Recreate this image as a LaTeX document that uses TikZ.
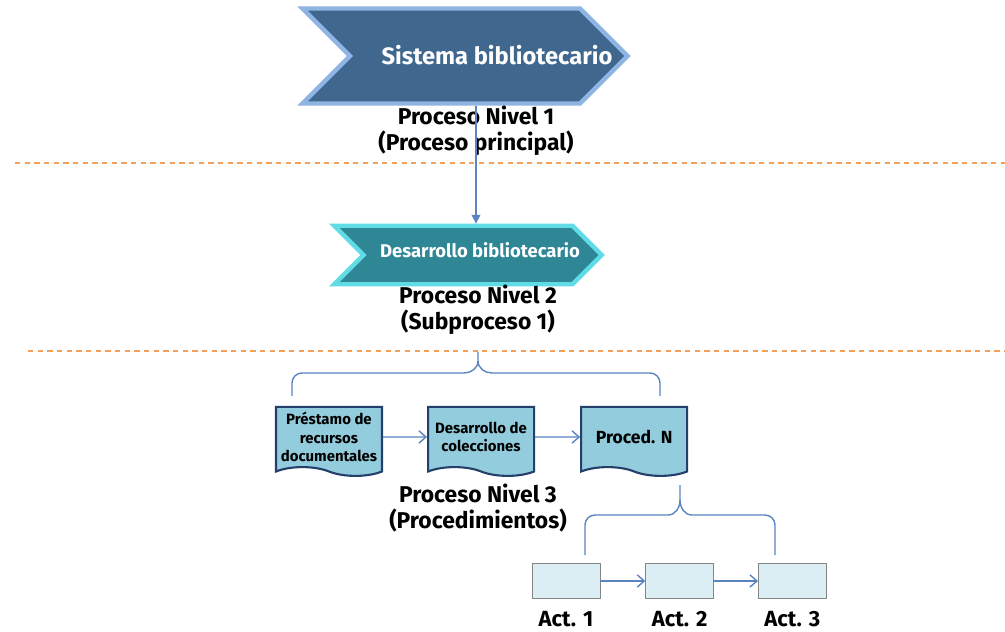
\documentclass[tikz,border=0pt]{standalone}
\usepackage{fontspec}
\setmainfont{Fira Sans}
\usetikzlibrary{arrows.meta,positioning,shapes.symbols,calc}
\definecolor{navyBody}{HTML}{40688F}
\definecolor{navyEdge}{HTML}{8DB4E2}
\definecolor{tealBody}{HTML}{2F8796}
\definecolor{tealEdge}{HTML}{5FDCE6}
\definecolor{docFill}{HTML}{93CDDD}
\definecolor{docLine}{HTML}{24406A}
\definecolor{actFill}{HTML}{DBEEF4}
\definecolor{actLine}{HTML}{858585}
\definecolor{linkColor}{HTML}{5B84BF}
\definecolor{cutColor}{HTML}{F5A05A}
\tikzset{chevron/.style={signal, signal from=west, signal to=east, signal pointer angle=90, inner sep=0pt, line width=2.5pt}}
\tikzset{chevron text/.style={text=white, font=\bfseries}}
\tikzset{level label/.style={align=center, font=\bfseries\fontsize{13}{14.5}\selectfont}}
\tikzset{doc/.style={tape, tape bend top=none, tape bend bottom=out and in, draw=docLine, line width=1.2pt, fill=docFill, minimum width=2.12cm, minimum height=1.38cm, inner sep=1pt, align=center, font=\bfseries\fontsize{8.5}{10.5}\selectfont}}
\tikzset{act/.style={rectangle, draw=actLine, fill=actFill, minimum width=1.36cm, minimum height=0.7cm}}
\tikzset{act label/.style={font=\bfseries\fontsize{12.5}{15}\selectfont}}
\tikzset{link/.style={draw=linkColor, line width=0.8pt}}
\tikzset{cut line/.style={cutColor, line width=1pt, dash pattern=on 3pt off 2.5pt}}

\begin{document}
\begin{tikzpicture}[x=0.02cm, y=-0.02cm, >={Straight Barb[length=4pt,width=7pt]}]
	\useasboundingbox (0,0) rectangle (1005,632);
	% dotted separators
	\draw[cut line] (15,163) -- (1005,163);
	\draw[cut line] (28,351) -- (1005,351);
	% level 1
	\node[chevron, fill=navyBody, draw=navyEdge, minimum width=6.5cm, minimum height=1.9cm] at (465,56) (sys) {};
	\node[chevron text, font=\bfseries\fontsize{13.5}{15}\selectfont] at (497,55) (sysText) {Sistema bibliotecario};
	\node[level label] at (476,131) (lvlOne) {Proceso Nivel 1\\(Proceso principal)};
	% level 2
	\node[chevron, fill=tealBody, draw=tealEdge, minimum width=5.35cm, minimum height=1.17cm] at (468,255) (dev) {};
	\node[chevron text, font=\bfseries\fontsize{10.5}{12}\selectfont] at (480,250) (devText) {Desarrollo bibliotecario};
	\node[level label] at (478,310) (lvlTwo) {Proceso Nivel 2\\(Subproceso 1)};
	\draw[link, -{Triangle[length=5pt,width=5pt]}] (sys.south -| lvlOne.center) -- (dev.north -| lvlOne.center);
	% level 3
	\draw[link] (292,396) -- (292,383) to[out=90,in=180] (302,373) -- (464,373) to[out=0,in=-90] (478,361) -- (478,352);
	\draw[link] (478,361) to[out=-90,in=180] (492,373) -- (650,373) to[out=0,in=90] (660,383) -- (660,396);
	\node[doc] at (329,437) (prestamo) {Préstamo de\\recursos\\documentales};
	\node[doc, right=0.88cm of prestamo] (colecciones) {Desarrollo de\\colecciones};
	\node[doc, right=0.9cm of colecciones, font=\bfseries\fontsize{10}{12}\selectfont] (procN) {Proced. N};
	\path (prestamo) edge[link, ->] (colecciones);
	\path (colecciones) edge[link, ->] (procN);
	\node[level label] at (478,508) (lvlThree) {Proceso Nivel 3\\(Procedimientos)};
	% activities
	\draw[link] (585,555) -- (585,525) to[out=90,in=180] (595,515) -- (668,515) to[out=0,in=-90] (680,500) -- (680,485);
	\draw[link] (680,500) to[out=-90,in=180] (692,515) -- (765,515) to[out=0,in=90] (775,525) -- (775,555);
	\node[act] at (566,581) (actOne) {};
	\node[act, right=0.9cm of actOne] (actTwo) {};
	\node[act, right=0.88cm of actTwo] (actThree) {};
	\path (actOne) edge[link, ->] (actTwo);
	\path (actTwo) edge[link, ->] (actThree);
	\node[act label, below=0.12cm of actOne] (actOneLab) {Act. 1};
	\node[act label, below=0.12cm of actTwo] (actTwoLab) {Act. 2};
	\node[act label, below=0.12cm of actThree] (actThreeLab) {Act. 3};
\end{tikzpicture}
\end{document}
